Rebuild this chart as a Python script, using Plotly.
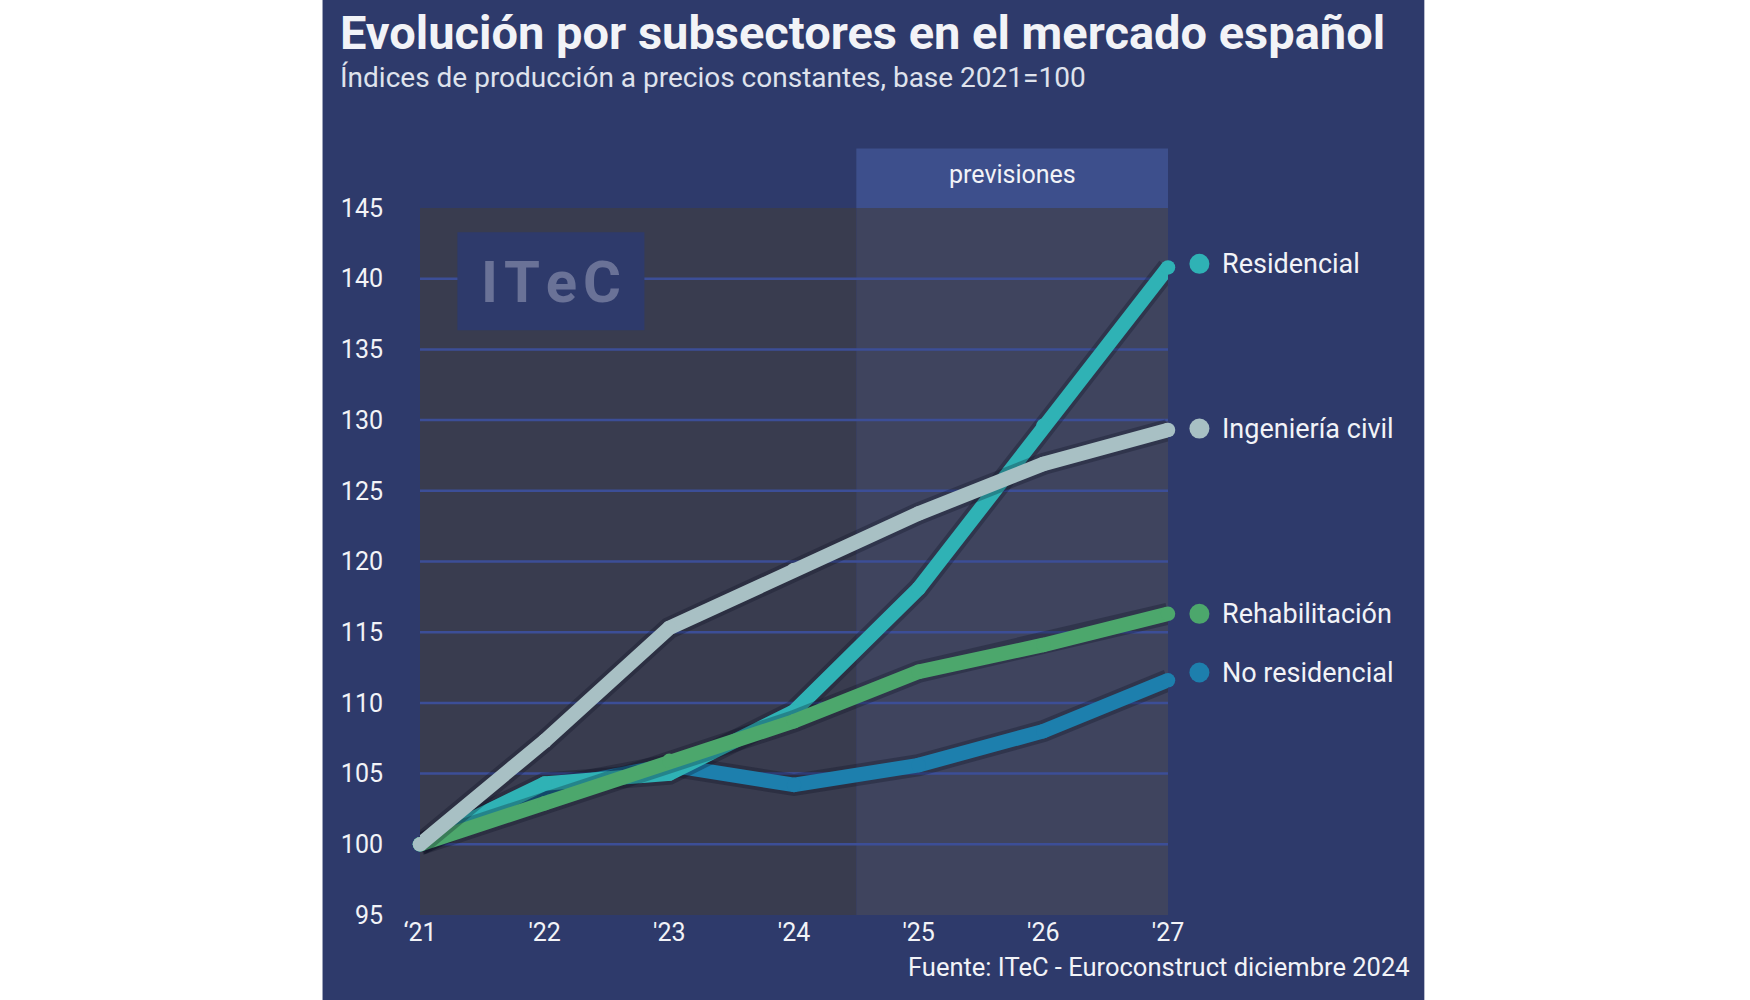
import plotly.graph_objects as go

# ---------------- data ----------------
years = [2021, 2022, 2023, 2024, 2025, 2026, 2027]
year_labels = ["‘21", "'22", "'23", "'24", "'25", "'26", "'27"]

residencial = [100, 104.3, 105.0, 109.4, 118.1, 129.6, 140.8]
no_residencial = [100, 103.9, 105.6, 104.2, 105.6, 108.0, 111.6]
rehabilitacion = [100, 102.9, 105.9, 108.7, 112.2, 114.1, 116.3]
ingenieria_civil = [100, 107.3, 115.3, 119.4, 123.4, 126.9, 129.3]

series_names = ["No residencial", "Residencial", "Rehabilitación", "Ingeniería civil"]
series_values = [no_residencial, residencial, rehabilitacion, ingenieria_civil]
series_colors = ["#1d7fad", "#2fb2b5", "#4ca76c", "#a8c0c4"]
label_dy = [0.55, 0.25, 0.0, 0.1]

y_ticks = [95, 100, 105, 110, 115, 120, 125, 130, 135, 140, 145]
grid_values = [100, 105, 110, 115, 120, 125, 130, 135, 140]
forecast_start = 2024.5

title = "Evolución por subsectores en el mercado español"
subtitle = "Índices de producción a precios constantes, base 2021=100"
source = "Fuente: ITeC - Euroconstruct diciembre 2024"

# ---------------- style ----------------
NAVY = "#2e3a6b"
PANEL_HIST = "#393c4f"
PANEL_FC = "#3f445e"
HEADER = "#3d4f8c"
GRID = "#3c4e97"
TXT = "#f2f3f7"
FONT = "Roboto"

fig = go.Figure()

for name, vals, col in zip(series_names, series_values, series_colors):
    fig.add_trace(go.Scatter(
        x=years, y=vals, mode="lines", showlegend=False, hoverinfo="skip",
        line=dict(color="rgba(12,14,32,0.28)", width=22),
    ))
    fig.add_trace(go.Scatter(
        x=years, y=vals, mode="lines+markers", name=name, showlegend=False,
        line=dict(color=col, width=14.5),
        marker=dict(color=col, size=14.5, line=dict(width=0)),
        cliponaxis=False,
    ))

shapes = [
    # navy card
    dict(type="rect", xref="paper", yref="paper", x0=-0.1303, x1=1.3427, y0=-0.2, y1=1.35,
         fillcolor=NAVY, line=dict(width=0), layer="below"),
    # historical panel
    dict(type="rect", xref="x", yref="y", x0=years[0], x1=forecast_start, y0=y_ticks[0], y1=y_ticks[-1],
         fillcolor=PANEL_HIST, line=dict(width=0), layer="below"),
    # forecast panel
    dict(type="rect", xref="x", yref="y", x0=forecast_start, x1=years[-1], y0=y_ticks[0], y1=y_ticks[-1],
         fillcolor=PANEL_FC, line=dict(width=0), layer="below"),
    # forecast header
    dict(type="rect", xref="x", yref="paper", x0=forecast_start, x1=years[-1], y0=1.0, y1=1.084,
         fillcolor=HEADER, line=dict(width=0), layer="below"),
]
for g in grid_values:
    shapes.append(dict(type="line", xref="x", yref="y", x0=years[0], x1=years[-1], y0=g, y1=g,
                       line=dict(color=GRID, width=2.5), layer="below"))
# logo box
shapes.append(dict(type="rect", xref="x", yref="y", x0=2021.30, x1=2022.80, y0=136.35, y1=143.28,
                   fillcolor=NAVY, line=dict(width=0), layer="below"))

# end labels (dots + text)
for name, vals, col, dy in zip(series_names, series_values, series_colors, label_dy):
    shapes.append(dict(type="circle", xref="paper", yref="y", xsizemode="pixel", ysizemode="pixel",
                       xanchor=1.042, yanchor=vals[-1] + dy, x0=-10, x1=10, y0=-10, y1=10,
                       fillcolor=col, line=dict(width=0), layer="above"))
    fig.add_annotation(
        x=1.069, y=vals[-1] + dy, xref="paper", yref="y", text=name,
        showarrow=False, xanchor="left", yanchor="middle",
        font=dict(family=FONT, size=27, color=TXT),
    )

fig.add_annotation(x=0.1745, y=0.896, xref="paper", yref="paper",
                   text="I\u200aT\u200ae\u200aC", showarrow=False, xanchor="center", yanchor="middle",
                   font=dict(family=FONT, size=58, color="#6a7297", weight="bold"))

fig.add_annotation(x=(forecast_start + years[-1]) / 2, y=1.047, xref="x", yref="paper",
                   text="previsiones", showarrow=False, xanchor="center", yanchor="middle",
                   font=dict(family=FONT, size=25, color=TXT))

fig.add_annotation(x=-0.1096, y=1.2485, xref="paper", yref="paper", text=title,
                   showarrow=False, xanchor="left", yanchor="middle",
                   font=dict(family=FONT, size=47, color=TXT, weight="bold"))
fig.add_annotation(x=-0.1096, y=1.184, xref="paper", yref="paper", text=subtitle,
                   showarrow=False, xanchor="left", yanchor="middle",
                   font=dict(family=FONT, size=28, color="#dfe2ec"))
fig.add_annotation(x=1.3266, y=-0.0733, xref="paper", yref="paper", text=source,
                   showarrow=False, xanchor="right", yanchor="middle",
                   font=dict(family=FONT, size=25.5, color=TXT))

fig.update_layout(
    width=1750, height=1000, autosize=False,
    margin=dict(l=420, r=582, t=208, b=85, pad=0),
    paper_bgcolor="white", plot_bgcolor="rgba(0,0,0,0)",
    shapes=shapes, showlegend=False,
    xaxis=dict(range=[years[0], years[-1]], tickvals=years, ticktext=year_labels,
               showgrid=False, zeroline=False, showline=False, ticks="",
               tickfont=dict(family=FONT, size=25, color=TXT), ticklabelstandoff=0),
    yaxis=dict(range=[y_ticks[0], y_ticks[-1]], tickvals=y_ticks,
               showgrid=False, zeroline=False, showline=False, ticks="",
               tickfont=dict(family=FONT, size=25, color=TXT), ticklabelstandoff=36),
)

fig.write_html("out.html", config={"displayModeBar": False},
               post_script="document.body.style.margin='0';")
